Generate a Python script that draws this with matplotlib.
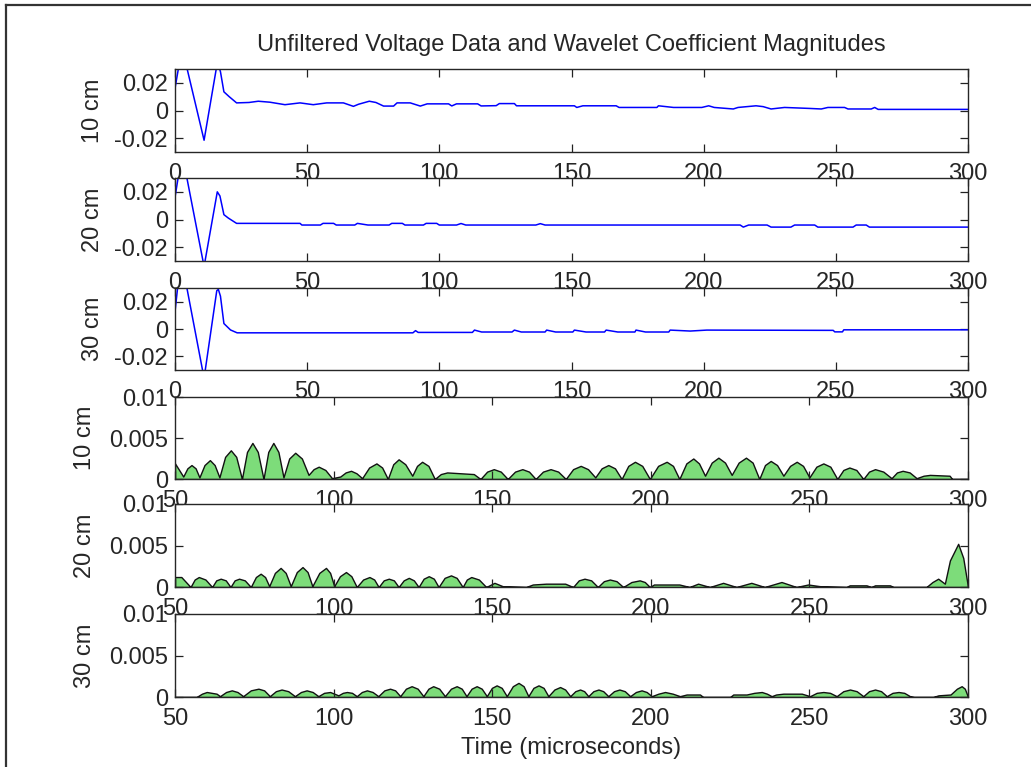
import numpy as np
import matplotlib.pyplot as plt
from matplotlib.lines import Line2D

plt.rcParams['font.family'] = ['Liberation Sans', 'DejaVu Sans']

# ---- raw voltage traces (time in microseconds, volts) ----
t_v10 = [0, 1.8, 3.2, 4.6, 11, 15.6, 16.3, 17.2, 18.5, 20.5, 23.3, 28, 31.5, 35.9, 41.6, 47.3,
         52.3, 57.4, 63.7, 67.5, 69.4, 73.5, 76, 78.9, 82.7, 84, 89, 92.8, 95.4, 103.5, 104.7,
         106.5, 114.5, 115.8, 121.5, 122.7, 128.4, 129.2, 151.1, 152, 154.3, 166.9, 168, 182.3,
         182.9, 188.6, 199.3, 201.9, 204, 211.2, 213, 219.8, 222.5, 225.5, 230.6, 240, 244.5,
         247, 253.3, 254.6, 263.4, 264.7, 266, 300]
v10 = [0.016, 0.036, 0.042, 0.03, -0.0215, 0.03, 0.034, 0.028, 0.0135, 0.01, 0.0055, 0.0058,
       0.0067, 0.006, 0.0042, 0.0055, 0.0042, 0.0055, 0.0055, 0.003, 0.0045, 0.0067, 0.0058,
       0.0032, 0.0032, 0.0055, 0.0055, 0.0032, 0.0048, 0.0048, 0.0033, 0.0048, 0.0048, 0.0033,
       0.0035, 0.005, 0.005, 0.0034, 0.0034, 0.0022, 0.0034, 0.0034, 0.0022, 0.0022, 0.0034,
       0.0022, 0.0022, 0.0034, 0.0022, 0.0011, 0.0022, 0.0034, 0.0028, 0.0011, 0.0022, 0.0015,
       0.0011, 0.0022, 0.0022, 0.0011, 0.0011, 0.0022, 0.0008, 0.0008]

t_v20 = [0, 1.5, 3, 4.5, 11, 16, 17, 18.5, 20.2, 23.3, 47.3, 48, 55, 56, 60, 61, 68, 69, 73, 81,
         82, 86, 87, 94, 95, 99, 100, 106.5, 108.2, 110, 136.5, 138.2, 140, 213.8, 215, 217,
         224, 225.5, 233, 234.4, 242, 243.2, 256.5, 257.7, 261.5, 262.7, 300]
v20 = [0.016, 0.034, 0.04, 0.03, -0.034, 0.02, 0.017, 0.0035, 0.001, -0.0028, -0.0028, -0.004,
       -0.004, -0.0028, -0.0028, -0.004, -0.004, -0.0028, -0.004, -0.004, -0.0028, -0.0028,
       -0.004, -0.004, -0.0028, -0.0028, -0.004, -0.004, -0.0029, -0.004, -0.004, -0.003,
       -0.004, -0.004, -0.0055, -0.004, -0.004, -0.0055, -0.0055, -0.004, -0.004, -0.0055,
       -0.0055, -0.004, -0.004, -0.0055, -0.0055]

t_v30 = [0, 1.2, 2.5, 4.5, 11, 15.8, 16.4, 17.2, 18.5, 21, 23.5, 26, 90, 91, 92, 112.5, 113.3,
         116, 127.5, 128.4, 131, 140, 140.6, 144, 150.5, 151.1, 155.5, 162.5, 163.1, 167.5,
         174, 174.4, 178, 186.8, 187.3, 194.9, 201.2, 249, 249.6, 252.5, 253, 300]
v30 = [0.0125, 0.034, 0.042, 0.03, -0.036, 0.028, 0.029, 0.024, 0.004, -0.0007, -0.0028,
       -0.0028, -0.0028, -0.0012, -0.0025, -0.0025, -0.0008, -0.0022, -0.0022, -0.0008,
       -0.0022, -0.0022, -0.0008, -0.0022, -0.0022, -0.0008, -0.0022, -0.0022, -0.0008,
       -0.0022, -0.0022, -0.0008, -0.0022, -0.0022, -0.0008, -0.0015, -0.0008, -0.001,
       -0.0021, -0.0021, -0.0006, -0.0006]

# ---- wavelet coefficient magnitudes ----
t_w10 = [50, 52.6, 53.9, 55.2, 56.5, 57.7, 59.3, 61, 62.5, 64, 65.8, 67.6, 69.3, 71.1, 72.7,
         74.4, 76.1, 77.9, 79.4, 81, 82.6, 84.2, 86, 87.9, 90, 92.1, 93.7, 95.3, 97.4, 99.5,
         102.1, 103.8, 105.5, 107.2, 109, 111.2, 113.5, 115.3, 117.1, 118.8, 120.5, 122.6,
         124.8, 126.3, 127.9, 129.9, 131.9, 133.8, 135.8, 140, 144.2, 146.3, 148.4, 150.5,
         152.7, 154.9, 157.2, 159.5, 161.6, 163.7, 166, 168.4, 170.8, 173.2, 175.5, 177.9,
         180.2, 182.5, 184.5, 186.6, 188.7, 190.8, 192.9, 195, 197.3, 199.7, 202.3, 205, 207,
         209, 211.2, 213.4, 215.2, 217.1, 219.2, 221.3, 223.4, 225.5, 227.7, 230, 232.1,
         234.2, 236, 237.8, 239.8, 241.8, 243.9, 246, 248, 250, 252.2, 254.4, 256.6, 258.8,
         260.7, 262.6, 264.8, 267, 268.8, 270.7, 273.3, 275.9, 277.6, 279.4, 281.6, 283.8,
         286, 288, 294.2, 295, 300]
w10 = [0.0019, 0.0003, 0.0013, 0.0017, 0.0013, 0.0002, 0.0017, 0.0023, 0.0017, 0.0002, 0.0027,
       0.0035, 0.0027, 0.0, 0.0033, 0.0044, 0.0033, 0.0, 0.0033, 0.0044, 0.0033, 0.0002,
       0.0025, 0.0032, 0.0025, 0.0005, 0.0012, 0.0015, 0.0011, 0.0001, 0.0003, 0.0008, 0.001,
       0.0007, 0.0001, 0.0014, 0.0019, 0.0014, 0.0, 0.0018, 0.0024, 0.0018, 0.0004, 0.0016,
       0.0021, 0.0016, 0.0, 0.0006, 0.0008, 0.0007, 0.0006, 0.0, 0.0009, 0.0012, 0.0009, 0.0,
       0.0009, 0.0012, 0.0009, 0.0, 0.0009, 0.0012, 0.0009, 0.0, 0.0012, 0.0016, 0.0012,
       0.0002, 0.0013, 0.0017, 0.0013, 0.0, 0.0016, 0.0021, 0.0016, 0.0, 0.0016, 0.0021,
       0.0016, 0.0, 0.0019, 0.0025, 0.0019, 0.0004, 0.002, 0.0026, 0.002, 0.0005, 0.002,
       0.0026, 0.002, 0.0, 0.0017, 0.0022, 0.0017, 0.0004, 0.0016, 0.0021, 0.0016, 0.0002,
       0.0015, 0.0019, 0.0015, 0.0, 0.0011, 0.0014, 0.0011, 0.0, 0.0009, 0.0012, 0.0009,
       0.0001, 0.0008, 0.001, 0.0008, 0.0001, 0.0004, 0.0005, 0.0004, 0.0, 0.0]

t_w20 = [50, 52, 54.9, 56.2, 57.5, 59.6, 61.7, 63, 64.4, 66, 67.5, 68.8, 70.2, 72, 73.9, 75.5,
         77, 78.4, 79.7, 81.5, 83.3, 84.9, 86.5, 88.4, 90.2, 91.8, 93.3, 95.5, 97.6, 98.9,
         100.2, 102, 103.9, 105.6, 107.3, 109.3, 111.3, 112.8, 114.2, 115.8, 117.4, 119,
         120.5, 122.1, 123.7, 125.3, 126.8, 128.4, 130, 131.6, 133.1, 135, 137, 138.8, 140.7,
         142, 143.4, 145.8, 148.1, 150.7, 153.3, 160.7, 162.8, 167, 173, 175.5, 177.3, 179.1,
         181.2, 183.3, 185.2, 187.1, 189.2, 191.3, 193.9, 196.5, 198.1, 199.7, 201, 209,
         212.2, 214.9, 218.6, 222.8, 227, 231.7, 235.9, 241.2, 245.9, 249.6, 253.3, 261.7,
         262.7, 268, 269.5, 270.7, 275.4, 276.5, 286.9, 288.8, 290.6, 292.7, 294.3, 296.9,
         298.5, 300]
w20 = [0.0012, 0.0012, 0.0, 0.0009, 0.0012, 0.0009, 0.0, 0.0008, 0.001, 0.0008, 0.0, 0.0008,
       0.001, 0.0008, 0.0, 0.0012, 0.0016, 0.0012, 0.0001, 0.0017, 0.0023, 0.0017, 0.0001,
       0.0018, 0.0024, 0.0018, 0.0001, 0.0017, 0.0023, 0.0017, 0.0001, 0.0013, 0.0018,
       0.0013, 0.0, 0.0009, 0.0012, 0.0009, 0.0, 0.0008, 0.001, 0.0008, 0.0, 0.0008, 0.0011,
       0.0008, 0.0, 0.001, 0.0013, 0.001, 0.0, 0.0011, 0.0014, 0.0011, 0.0, 0.0009, 0.0012,
       0.0009, 0.0, 0.0005, 0.0001, 0.0, 0.0003, 0.0004, 0.0004, 0.0, 0.0008, 0.001, 0.0008,
       0.0, 0.0007, 0.0009, 0.0007, 0.0, 0.0006, 0.0008, 0.0006, 0.0, 0.0003, 0.0003, 0.0,
       0.0004, 0.0, 0.0005, 0.0, 0.0005, 0.0, 0.0006, 0.0, 0.0003, 0.0001, 0.0, 0.0002,
       0.0002, 0.0, 0.0002, 0.0002, 0.0, 0.0, 0.0006, 0.001, 0.0004, 0.0032, 0.0052, 0.0035,
       0.0]

t_w30 = [50, 56.8, 58.5, 60, 63.1, 64.2, 66.1, 67.9, 69.7, 71.5, 73.9, 76.3, 78.1, 79.9, 81.8,
         83.6, 85.7, 87.8, 89.7, 91.5, 93.4, 95.2, 97, 98.9, 101.5, 102.9, 104.2, 105.8,
         107.3, 108.9, 110.5, 112.3, 114.1, 116, 117.8, 119.4, 121, 122.8, 124.6, 126.5,
         128.3, 129.9, 131.4, 133.3, 135.1, 137, 138.8, 140.4, 141.9, 143.5, 145.1, 146.7,
         148.3, 149.9, 151.4, 153, 154.6, 156.5, 158.3, 159.9, 161.4, 163, 164.6, 166.2,
         167.7, 169.6, 171.4, 173, 174.6, 176.2, 177.7, 179, 180.3, 181.9, 183.5, 185, 186.6,
         188.4, 190.1, 191.8, 193.5, 195.3, 197.1, 198.7, 200.3, 202.4, 204.5, 206.9, 209.2,
         211.3, 215.5, 216.5, 225, 226, 230.2, 232.6, 235, 236.6, 238.1, 239.5, 241.8, 247.6,
         250.2, 252.3, 254.4, 256.5, 258.6, 260.7, 262.8, 264.9, 267, 268.8, 270.7, 272.6,
         274.4, 276.2, 278.1, 279.9, 281.7, 283, 289, 290.7, 294.5, 296.5, 298, 299, 300]
w30 = [0.0, 0.0, 0.0004, 0.0006, 0.0004, 0.0001, 0.0006, 0.0008, 0.0006, 0.0001, 0.0008,
       0.001, 0.0008, 0.0001, 0.0007, 0.0009, 0.0007, 0.0001, 0.0006, 0.0008, 0.0006, 0.0001,
       0.0005, 0.0006, 0.0002, 0.0005, 0.0006, 0.0005, 0.0001, 0.0006, 0.0008, 0.0006,
       0.0001, 0.0008, 0.001, 0.0008, 0.0001, 0.001, 0.0013, 0.001, 0.0001, 0.001, 0.0013,
       0.001, 0.0001, 0.001, 0.0013, 0.001, 0.0001, 0.001, 0.0013, 0.001, 0.0001, 0.0011,
       0.0014, 0.0011, 0.0001, 0.0013, 0.0017, 0.0013, 0.0001, 0.0011, 0.0014, 0.0011,
       0.0001, 0.0009, 0.0012, 0.0009, 0.0001, 0.0007, 0.0009, 0.0007, 0.0001, 0.0007,
       0.0009, 0.0007, 0.0001, 0.0007, 0.0009, 0.0007, 0.0001, 0.0006, 0.0008, 0.0006,
       0.0001, 0.0004, 0.0006, 0.0004, 0.0001, 0.0003, 0.0003, 0.0, 0.0, 0.0003, 0.0003,
       0.0005, 0.0006, 0.0004, 0.0001, 0.0003, 0.0004, 0.0004, 0.0001, 0.0005, 0.0006,
       0.0005, 0.0001, 0.0007, 0.0009, 0.0007, 0.0001, 0.0007, 0.0009, 0.0007, 0.0001,
       0.0005, 0.0006, 0.0005, 0.0001, 0.0, 0.0, 0.0002, 0.0003, 0.001, 0.0013, 0.001, 0.0]

labels = ['10 cm', '20 cm', '30 cm']
volt_t = [t_v10, t_v20, t_v30]
volt_v = [v10, v20, v30]
wav_t = [t_w10, t_w20, t_w30]
wav_v = [w10, w20, w30]

W, H = 1031, 767
fig = plt.figure(figsize=(W / 100, H / 100), dpi=100)
fig.patch.set_facecolor('white')

# axes boxes in pixels (top, bottom)
rows = [(69, 152), (178, 261), (288, 370), (397, 479), (504, 587), (614, 697)]
left, right = 175, 968
fs = 17
txtc = '#262626'


def make_ax(top, bottom):
    ax = fig.add_axes([left / W, 1 - bottom / H, (right - left) / W, (bottom - top) / H])
    ax.tick_params(direction='in', top=True, right=True, length=6, width=0.9,
                   labelsize=fs, colors='#222222', labelcolor=txtc, pad=5)
    ax.tick_params(axis='x', pad=8)
    for s in ax.spines.values():
        s.set_linewidth(1.0)
        s.set_color('#262626')
    return ax


for i in range(3):
    ax = make_ax(*rows[i])
    ax.plot(volt_t[i], volt_v[i], color='#0000ff', lw=1.1)
    ax.set_xlim(0, 300)
    ax.set_ylim(-0.03, 0.03)
    ax.set_xticks([0, 50, 100, 150, 200, 250, 300])
    ax.set_yticks([-0.02, 0, 0.02])
    ax.set_yticklabels(['-0.02', '0', '0.02'])
    ax.set_ylabel(labels[i], fontsize=fs, color=txtc, va='center')
    ax.yaxis.set_label_coords((93 - left) / (right - left), 0.5)

for i in range(3):
    ax = make_ax(*rows[i + 3])
    ax.fill_between(wav_t[i], wav_v[i], 0, facecolor='#7ddc7a', edgecolor='#111111', lw=1.0)
    ax.set_xlim(50, 300)
    ax.set_ylim(0, 0.01)
    ax.set_xticks([50, 100, 150, 200, 250, 300])
    ax.set_yticks([0, 0.005, 0.01])
    ax.set_yticklabels(['0', '0.005', '0.01'])
    ax.set_ylabel(labels[i], fontsize=fs, color=txtc, va='center')
    ax.yaxis.set_label_coords((85 - left) / (right - left), 0.5)
    if i == 2:
        ax.set_xlabel('Time (microseconds)', fontsize=fs, color=txtc, va='center')
        ax.xaxis.set_label_coords(0.5, -(748 - 697) / (697 - 614))

fig.text((left + right) / 2 / W, 1 - 45 / H,
         'Unfiltered Voltage Data and Wavelet Coefficient Magnitudes',
         ha='center', va='center', fontsize=fs, color=txtc)

# figure frame (left and top edges visible)
fig.add_artist(Line2D([6 / W, 6 / W], [0, 1 - 5 / H], color='#333333', lw=1.6))
fig.add_artist(Line2D([6 / W, 1], [1 - 5 / H, 1 - 5 / H], color='#333333', lw=1.6))

fig.savefig('out.png', dpi=100)
